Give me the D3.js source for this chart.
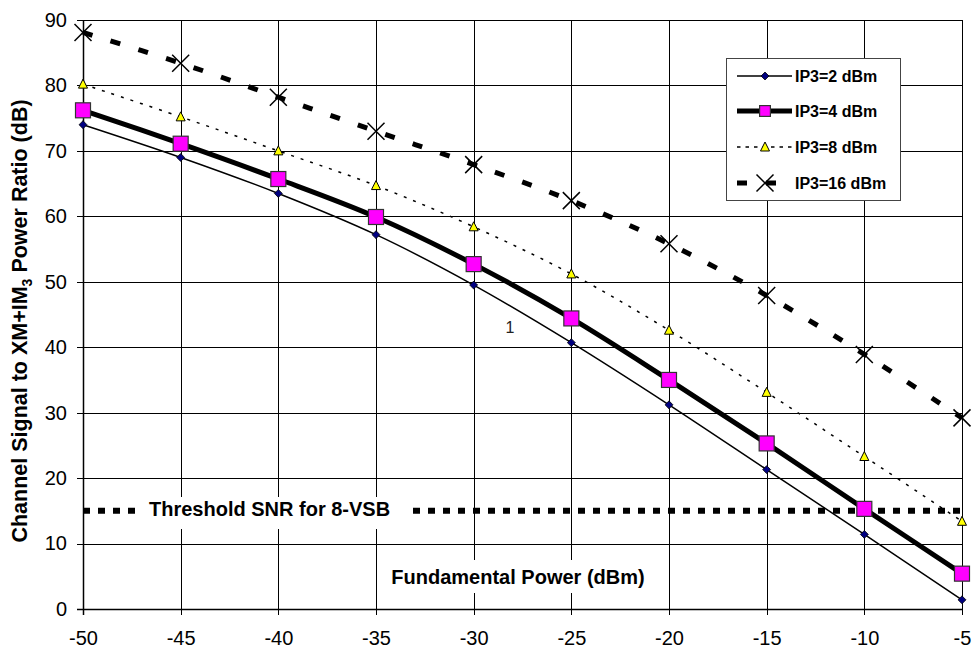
<!DOCTYPE html>
<html>
<head>
<meta charset="utf-8">
<script src="https://cdn.jsdelivr.net/npm/d3@7"></script>
<style>
  body { margin: 0; background: #fff; }
  text { font-family: "Liberation Sans", Arial, sans-serif; }
</style>
</head>
<body>
<div class="visArea"></div>
<script>
// Chart data
var fundPower = [-50, -45, -40, -35, -30, -25, -20, -15, -10, -5];
var ip3_2 = [74.0, 69.0, 63.5, 57.2, 49.5, 40.7, 31.2, 21.3, 11.4, 1.4];
var ip3_4 = [76.2, 71.1, 65.7, 59.9, 52.7, 44.4, 35.0, 25.3, 15.3, 5.4];
var ip3_8 = [80.2, 75.2, 70.0, 64.7, 58.4, 51.2, 42.6, 33.1, 23.3, 13.4];
var ip3_16 = [88.1, 83.4, 78.2, 73.0, 67.9, 62.4, 55.8, 47.9, 38.9, 29.2];
var seriesNames = ['IP3=2 dBm', 'IP3=4 dBm', 'IP3=8 dBm', 'IP3=16 dBm'];
var thresholdSNR = 15;
var xTicks = [-50, -45, -40, -35, -30, -25, -20, -15, -10, -5];
var yTicks = [0, 10, 20, 30, 40, 50, 60, 70, 80, 90];

var chartWidth = 972;
var chartHeight = 651;
var plotLeft = 83, plotRight = 962, plotTop = 20, plotBottom = 609;

var svg = d3.select('.visArea')
  .append('svg')
  .attr('width', chartWidth)
  .attr('height', chartHeight);

var x = d3.scaleLinear().domain([-50, -5]).range([plotLeft, plotRight]);
var y = d3.scaleLinear().domain([0, 90]).range([plotBottom, plotTop]);

// gridlines
svg.append('g')
  .selectAll('line')
  .data(yTicks)
  .enter().append('line')
  .attr('x1', plotLeft - 6).attr('x2', plotRight)
  .attr('y1', d => Math.round(y(d)) + 0.5)
  .attr('y2', d => Math.round(y(d)) + 0.5)
  .style('stroke', '#000')
  .style('stroke-width', 1);

svg.append('g')
  .selectAll('line')
  .data(xTicks)
  .enter().append('line')
  .attr('y1', plotTop).attr('y2', plotBottom + 6)
  .attr('x1', d => Math.round(x(d)) + 0.5)
  .attr('x2', d => Math.round(x(d)) + 0.5)
  .style('stroke', '#000')
  .style('stroke-width', 1);

// axes (labels only, lines drawn above)
var yAxis = svg.append('g')
  .attr('transform', 'translate(' + plotLeft + ',0)')
  .call(d3.axisLeft(y).tickValues(yTicks).tickFormat(d => String(d)).tickSize(6).tickPadding(10));
yAxis.select('.domain').remove();
yAxis.selectAll('line').remove();
yAxis.selectAll('text')
  .style('font-size', '20px')
  .style('font-family', '"Liberation Sans", Arial, sans-serif')
  .attr('fill', '#000');

var xAxis = svg.append('g')
  .attr('transform', 'translate(0,' + plotBottom + ')')
  .call(d3.axisBottom(x).tickValues(xTicks).tickFormat(d => String(d)).tickSize(6).tickPadding(16));
xAxis.select('.domain').remove();
xAxis.selectAll('line').remove();
xAxis.selectAll('text')
  .style('font-size', '20px')
  .style('font-family', '"Liberation Sans", Arial, sans-serif')
  .attr('fill', '#000');

// axis lines
svg.append('line')
  .attr('x1', plotLeft + 0.5).attr('x2', plotLeft + 0.5)
  .attr('y1', plotTop).attr('y2', plotBottom + 6)
  .style('stroke', '#000').style('stroke-width', 1.5);
svg.append('line')
  .attr('x1', plotLeft - 6).attr('x2', plotRight + 1)
  .attr('y1', plotBottom + 0.5).attr('y2', plotBottom + 0.5)
  .style('stroke', '#000').style('stroke-width', 1.5);

// threshold line
svg.append('line')
  .attr('x1', x(-50)).attr('x2', x(-5))
  .attr('y1', y(thresholdSNR)).attr('y2', y(thresholdSNR))
  .style('stroke', '#000')
  .style('stroke-width', 6)
  .style('stroke-dasharray', '7,8');

// text boxes with white fill
svg.append('rect')
  .attr('x', 143).attr('y', 497)
  .attr('width', 268).attr('height', 32)
  .style('fill', '#fff');
svg.append('text')
  .attr('x', 149).attr('y', 516)
  .style('font-size', '20px')
  .style('font-weight', 'bold')
  .text('Threshold SNR for 8-VSB');

svg.append('rect')
  .attr('x', 382).attr('y', 560)
  .attr('width', 274).attr('height', 33)
  .style('fill', '#fff');
svg.append('text')
  .attr('x', 518).attr('y', 584)
  .attr('text-anchor', 'middle')
  .style('font-size', '20px')
  .style('font-weight', 'bold')
  .text('Fundamental Power (dBm)');

svg.append('text')
  .attr('x', 510).attr('y', 333)
  .attr('text-anchor', 'middle')
  .style('font-size', '16px')
  .style('fill', '#222')
  .text('1');

// y axis title with subscript
var yTitle = svg.append('text')
  .attr('transform', 'translate(27,321) rotate(-90)')
  .attr('text-anchor', 'middle')
  .style('font-size', '21.5px')
  .style('font-weight', 'bold');
yTitle.append('tspan').text('Channel Signal to XM+IM');
yTitle.append('tspan').attr('dy', 5).style('font-size', '14px').text('3');
yTitle.append('tspan').attr('dy', -5).text(' Power Ratio (dB)');

// series
var series = [
  {name: seriesNames[0], values: ip3_2, width: 1.5, dash: null, marker: 'diamond'},
  {name: seriesNames[1], values: ip3_4, width: 5, dash: null, marker: 'square'},
  {name: seriesNames[2], values: ip3_8, width: 1.5, dash: '3,7', marker: 'triangle'},
  {name: seriesNames[3], values: ip3_16, width: 5, dash: '10,19', marker: 'cross'}
];

var line = d3.line()
  .x((d, i) => x(fundPower[i]))
  .y(d => y(d))
  .curve(d3.curveCatmullRom);

series.forEach(function(s) {
  svg.append('path')
    .datum(s.values)
    .attr('d', line)
    .style('fill', 'none')
    .style('stroke', '#000')
    .style('stroke-width', s.width)
    .style('stroke-dasharray', s.dash);
});

function drawMarker(g, type, cx, cy, scale) {
  var k = scale || 1;
  if (type === 'diamond') {
    g.append('path')
      .attr('d', d3.symbol().type(d3.symbolDiamond2).size(40 * k * k)())
      .attr('transform', 'translate(' + cx + ',' + cy + ')')
      .style('fill', '#000080').style('stroke', '#000').style('stroke-width', 0.8);
  } else if (type === 'square') {
    var s = 15 * k;
    g.append('rect')
      .attr('x', cx - s / 2).attr('y', cy - s / 2)
      .attr('width', s).attr('height', s)
      .style('fill', '#ff00ff').style('stroke', '#333').style('stroke-width', 1.2);
  } else if (type === 'triangle') {
    var w = 9 * k, h = 8 * k;
    g.append('path')
      .attr('d', 'M' + cx + ',' + (cy - h / 2 - 1) + 'L' + (cx + w / 2) + ',' + (cy + h / 2) +
        'L' + (cx - w / 2) + ',' + (cy + h / 2) + 'Z')
      .style('fill', '#ffff00').style('stroke', '#000').style('stroke-width', 1);
  } else {
    var r = 8.5 * k;
    g.append('path')
      .attr('d', 'M' + (cx - r) + ',' + (cy - r) + 'L' + (cx + r) + ',' + (cy + r) +
        'M' + (cx + r) + ',' + (cy - r) + 'L' + (cx - r) + ',' + (cy + r))
      .style('fill', 'none').style('stroke', '#000').style('stroke-width', 1.5);
  }
}

var markers = svg.append('g');
series.forEach(function(s) {
  s.values.forEach(function(v, i) {
    drawMarker(markers, s.marker, x(fundPower[i]), y(v));
  });
});

// legend
var legend = svg.append('g');
legend.append('rect')
  .attr('x', 726.5).attr('y', 58.5)
  .attr('width', 174).attr('height', 142)
  .style('fill', '#fff')
  .style('stroke', '#444')
  .style('stroke-width', 1);

var legendY = [76, 111, 147, 183];
series.forEach(function(s, i) {
  legend.append('line')
    .attr('x1', 737).attr('x2', 792)
    .attr('y1', legendY[i]).attr('y2', legendY[i])
    .style('stroke', '#000')
    .style('stroke-width', s.width)
    .style('stroke-dasharray', s.marker === 'triangle' ? '3.5,5' : s.dash);
  drawMarker(legend, s.marker, 765, legendY[i], s.marker === 'square' ? 0.72 : 1);
  legend.append('text')
    .attr('x', 795).attr('y', legendY[i] + 6)
    .style('font-size', '16px')
    .style('font-weight', 'bold')
    .text(s.name);
});
</script>
</body>
</html>
